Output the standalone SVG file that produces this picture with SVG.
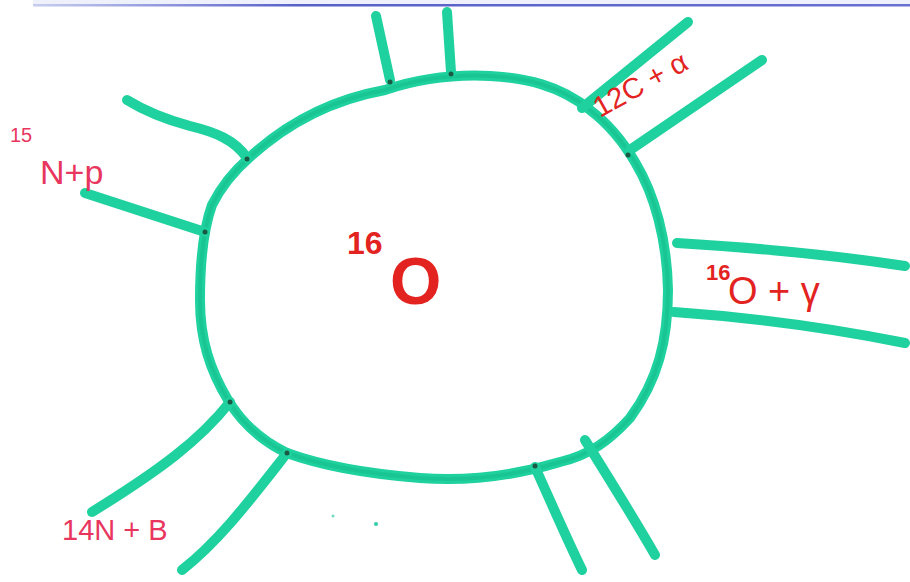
<svg xmlns="http://www.w3.org/2000/svg" width="910" height="582" viewBox="0 0 910 582">
<defs>
<style>
.mk{fill:none;stroke:#1fd19e;stroke-width:10;stroke-linecap:round;stroke-linejoin:round}
.mk2{fill:none;stroke:#15b585;stroke-width:4;stroke-linecap:round;stroke-linejoin:round;opacity:0.4}
.red{fill:#e3231f;font-family:"Liberation Sans",Arial,sans-serif}
.pink{fill:#e8365f;font-family:"Liberation Sans",Arial,sans-serif}
.dot{fill:#1a5a44}
</style>
<linearGradient id="bar" x1="0" y1="0" x2="1" y2="0">
<stop offset="0" stop-color="#c8cdf0"/>
<stop offset="0.3" stop-color="#5860c8"/>
<stop offset="1" stop-color="#6a70d0"/>
</linearGradient>
</defs>
<rect width="910" height="582" fill="#ffffff"/>
<g id="frame">
<rect x="33" y="0" width="877" height="6" fill="#eef0fb"/>
<rect x="33" y="4" width="877" height="2.5" fill="url(#bar)"/>
</g>
<g id="nucleus">
<path class="mk" d="M385,90 C415,80 450,74 490,76 C525,78 560,85 590,110 C610,125 625,145 635,162 C655,195 667,240 668,290 C668,340 658,380 630,418 C610,440 590,455 560,462 C520,474 470,482 420,478 C370,474 320,465 287,453 C260,440 240,420 228,400 C210,370 200,340 200,300 C200,260 203,230 212,205 C222,185 235,170 250,157 C285,125 330,100 385,90 Z"/>
<path class="mk2" d="M385,90 C415,80 450,74 490,76 C525,78 560,85 590,110 C610,125 625,145 635,162 C655,195 667,240 668,290 C668,340 658,380 630,418 C610,440 590,455 560,462 C520,474 470,482 420,478 C370,474 320,465 287,453 C260,440 240,420 228,400 C210,370 200,340 200,300 C200,260 203,230 212,205 C222,185 235,170 250,157 C285,125 330,100 385,90 Z"/>
<text class="red" x="347" y="254" font-size="32" font-weight="bold">16</text>
<text class="red" x="390" y="304" font-size="66" font-weight="bold">O</text>
</g>
<g id="connectors">
<path class="mk" d="M390,80 L376,16"/>
<path class="mk" d="M451,72 L447,12"/>
<path class="mk" d="M582,108 L688,22"/>
<path class="mk" d="M630,150 L762,60"/>
<path class="mk" d="M247,158 C235,140 215,132 190,126 C160,118 140,108 127,100"/>
<path class="mk" d="M205,232 L85,193"/>
<path class="mk" d="M677,243 C760,248 840,256 905,266"/>
<path class="mk" d="M674,312 C760,318 840,330 905,343"/>
<path class="mk" d="M230,402 C200,440 160,470 92,512"/>
<path class="mk" d="M287,453 C250,500 220,540 182,570"/>
<path class="mk" d="M535,467 C550,500 565,535 582,570"/>
<path class="mk" d="M585,440 C610,480 635,520 655,555"/>
<circle class="dot" cx="247" cy="159" r="2.5"/>
<circle class="dot" cx="205" cy="232" r="2.5"/>
<circle class="dot" cx="230" cy="402" r="2.5"/>
<circle class="dot" cx="287" cy="453" r="2.5"/>
<circle class="dot" cx="535" cy="466" r="2.5"/>
<circle class="dot" cx="628" cy="155" r="2.5"/>
<circle class="dot" cx="390" cy="82" r="2.5"/>
<circle class="dot" cx="451" cy="74" r="2.5"/>
<circle cx="333" cy="516" r="1.5" fill="#6fdcc0"/>
<circle cx="376" cy="524" r="2" fill="#2fcfa8"/>
</g>
<g id="labels">
<text class="pink" x="10" y="142" font-size="20">15</text>
<text class="pink" x="40" y="184" font-size="34">N+p</text>
<text class="red" x="0" y="0" font-size="29" transform="translate(600,118) rotate(-29)">12C + α</text>
<text class="red" x="706" y="280" font-size="22" font-weight="bold">16</text>
<text class="red" x="728" y="304" font-size="38">O + γ</text>
<text class="pink" x="62" y="540" font-size="29">14N + B</text>
</g>
</svg>
